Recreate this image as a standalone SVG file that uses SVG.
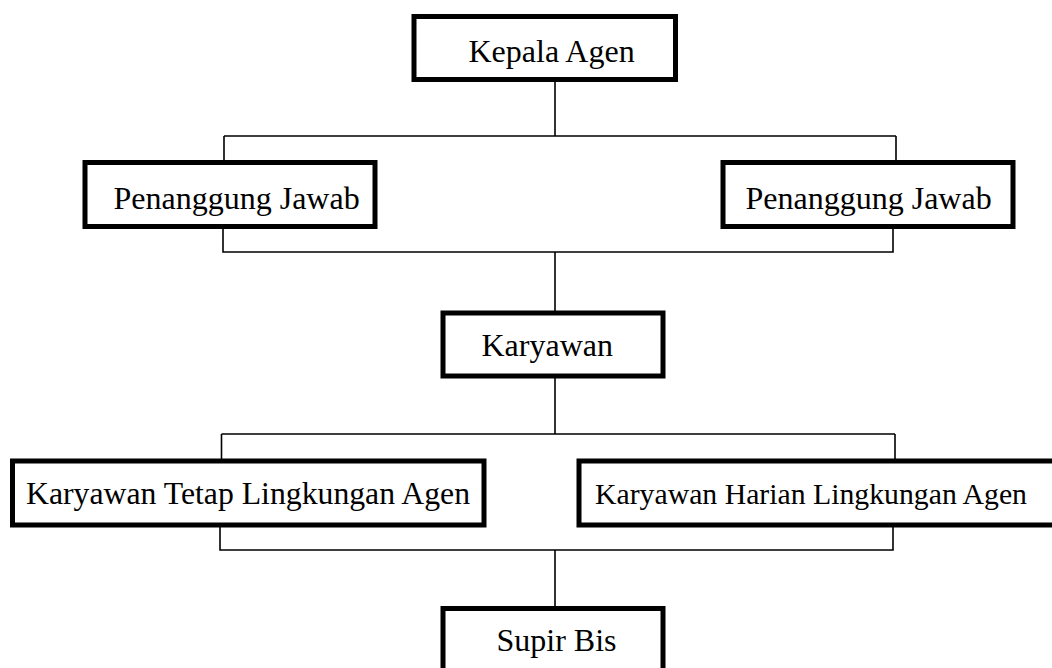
<svg xmlns="http://www.w3.org/2000/svg" width="1052" height="668" viewBox="0 0 1052 668">
<style>
.box{fill:#fff;stroke:#000;stroke-width:5}
.ln{fill:none;stroke:#000;stroke-width:1.6}
text{font-family:"Liberation Serif","Times New Roman",serif;font-size:32px;fill:#000}
</style>
<rect width="1052" height="668" fill="#fff"/>
<g id="connectors" class="ln">
<path d="M555 80V136M224 136H896M224 136V163M896 136V163"/>
<path d="M223 226V252H893V226M555 252V313"/>
<path d="M555 376V434M221.5 434H895M221.5 434V461M895 434V461"/>
<path d="M220 525V550H893V525M555 550V608"/>
</g>
<g id="kepala"><rect class="box" x="414" y="16.5" width="261.5" height="63"/><text x="468.5" y="61.5">Kepala Agen</text></g>
<g id="pj1"><rect class="box" x="85" y="162.5" width="290" height="64"/><text x="113.5" y="208.5">Penanggung Jawab</text></g>
<g id="pj2"><rect class="box" x="723" y="162.5" width="290" height="64"/><text x="745.5" y="208.5">Penanggung Jawab</text></g>
<g id="karyawan"><rect class="box" x="443" y="313" width="220" height="63"/><text x="481.5" y="356">Karyawan</text></g>
<g id="tetap"><rect class="box" x="12.5" y="461" width="471.5" height="64"/><text x="26" y="503.5" textLength="444" lengthAdjust="spacingAndGlyphs">Karyawan Tetap Lingkungan Agen</text></g>
<g id="harian"><rect class="box" x="579" y="461" width="480" height="64"/><text x="595" y="503.5" style="font-size:29.5px" textLength="432" lengthAdjust="spacingAndGlyphs">Karyawan Harian Lingkungan Agen</text></g>
<g id="supir"><rect class="box" x="443" y="608.5" width="220" height="70"/><text x="496.5" y="650.5">Supir Bis</text></g>
</svg>
